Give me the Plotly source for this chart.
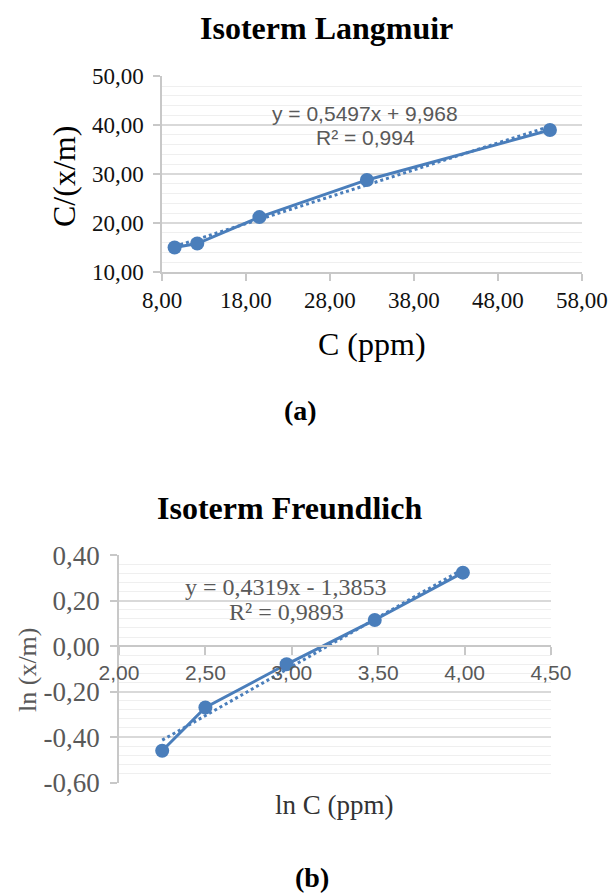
import plotly.graph_objects as go

# ---- data ----
C_ppm = [9.5, 12.2, 19.6, 32.4, 54.2]
C_over_xm = [15.0, 15.8, 21.2, 28.8, 39.0]
lang_slope, lang_intercept = 0.5497, 9.968
lang_eq = "y = 0,5497x + 9,968"
lang_r2 = "R² = 0,994"

lnC = [2.25, 2.50, 2.97, 3.48, 3.99]
ln_xm = [-0.46, -0.27, -0.08, 0.115, 0.323]
freu_slope, freu_intercept = 0.4319, -1.3853
freu_eq = "y = 0,4319x - 1,3853"
freu_r2 = "R² = 0,9893"

lang_xticks = [8, 18, 28, 38, 48, 58]
lang_yticks = [10, 20, 30, 40, 50]
freu_xticks = [2.0, 2.5, 3.0, 3.5, 4.0, 4.5]
freu_yticks = [-0.6, -0.4, -0.2, 0.0, 0.2, 0.4]

W, H = 612, 895
BLUE = "#4A7EBB"
SERIF = "Liberation Serif"
SANS = "Liberation Sans"
GRID = "#d9d9d9"
MINOR = "#efefef"
AXLINE = "#c8c8c8"


def fmt(v):
    return f"{v:.2f}".replace(".", ",")


def px(x):
    return x / W


def py(y):
    return 1 - y / H


fig = go.Figure()

# Langmuir
lx = [min(C_ppm), max(C_ppm)]
fig.add_trace(go.Scatter(x=lx, y=[lang_slope * v + lang_intercept for v in lx],
                         mode="lines", line=dict(color=BLUE, width=3, dash="dot"),
                         xaxis="x", yaxis="y", showlegend=False))
fig.add_trace(go.Scatter(x=C_ppm, y=C_over_xm, mode="lines+markers",
                         line=dict(color=BLUE, width=3),
                         marker=dict(color=BLUE, size=14),
                         xaxis="x", yaxis="y", showlegend=False))

# Freundlich
fx = [min(lnC), max(lnC)]
fig.add_trace(go.Scatter(x=fx, y=[freu_slope * v + freu_intercept for v in fx],
                         mode="lines", line=dict(color=BLUE, width=3, dash="dot"),
                         xaxis="x2", yaxis="y2", showlegend=False))
fig.add_trace(go.Scatter(x=lnC, y=ln_xm, mode="lines+markers",
                         line=dict(color=BLUE, width=3),
                         marker=dict(color=BLUE, size=14),
                         xaxis="x2", yaxis="y2", showlegend=False))

top_x = [px(162), px(582)]
top_y = [py(272), py(76)]
bot_x = [px(119), px(551)]
bot_y = [py(783), py(554.7)]
y2_range = [-0.6, 0.4]
x2_pos = bot_y[0] + (0 - y2_range[0]) / (y2_range[1] - y2_range[0]) * (bot_y[1] - bot_y[0])

fig.update_layout(
    template="none",
    width=W, height=H,
    margin=dict(l=0, r=0, t=0, b=0, pad=0, autoexpand=False),
    paper_bgcolor="white", plot_bgcolor="white",
    xaxis=dict(domain=top_x, anchor="y", range=[8, 58.02], automargin=False,
               tickvals=lang_xticks, ticktext=[fmt(v) for v in lang_xticks],
               showgrid=False, zeroline=False,
               showline=True, linecolor=AXLINE, linewidth=1.5,
               ticks="outside", ticklen=7, tickcolor=AXLINE, tickwidth=1.5,
               tickfont=dict(family=SERIF, size=23, color="#111111")),
    yaxis=dict(domain=top_y, anchor="x", range=[9.98, 50.05], automargin=False,
               tickvals=lang_yticks, ticktext=[fmt(v) for v in lang_yticks],
               showgrid=True, gridcolor=GRID, gridwidth=1.5,
               zeroline=False, showline=True, linecolor=AXLINE, linewidth=1.5,
               ticks="outside", ticklen=7, tickcolor=AXLINE, tickwidth=1.5,
               ticklabelstandoff=5,
               minor=dict(dtick=2, tick0=10, showgrid=True, gridcolor=MINOR, gridwidth=1.2, ticks=""),
               tickfont=dict(family=SERIF, size=23, color="#111111")),
    xaxis2=dict(domain=bot_x, anchor="free", position=x2_pos, range=[2.0, 4.5], automargin=False,
                tickvals=freu_xticks, ticktext=[fmt(v) for v in freu_xticks],
                showgrid=False, zeroline=False,
                showline=True, linecolor=AXLINE, linewidth=1.5,
                ticks="outside", ticklen=8, tickcolor=AXLINE, tickwidth=1.5,
                tickfont=dict(family=SANS, size=21, color="#595959")),
    yaxis2=dict(domain=bot_y, anchor="x2", range=[-0.602, 0.402], automargin=False,
                tickvals=freu_yticks, ticktext=[fmt(v) for v in freu_yticks],
                showgrid=True, gridcolor=GRID, gridwidth=1.5,
                zeroline=False, showline=True, linecolor=AXLINE, linewidth=1.5,
                ticks="outside", ticklen=7, tickcolor=AXLINE, tickwidth=1.5,
                ticklabelstandoff=5,
                minor=dict(dtick=0.04, tick0=0, showgrid=True, gridcolor=MINOR, gridwidth=1.2, ticks=""),
                tickfont=dict(family=SERIF, size=27, color="#595959")),
)

ann = []


def add_text(text, x, y, size, family, color="#000000", bold=False, angle=0, xref="paper", yref="paper"):
    t = f"<b>{text}</b>" if bold else text
    ann.append(dict(text=t, x=x, y=y, xref=xref, yref=yref, showarrow=False,
                    xanchor="center", yanchor="middle", textangle=angle,
                    font=dict(family=family, size=size, color=color)))


add_text("Isoterm Langmuir", px(326.5), py(28), 32, SERIF, bold=True)
add_text("C/(x/m)", px(64), py(177), 32, SERIF, angle=-90)
add_text("C (ppm)", px(372.5), py(344), 32, SERIF)
add_text("(a)", px(300), py(410), 28, SERIF, bold=True)
add_text(lang_eq, 32.2, 42.45, 21, SANS, color="#595959", xref="x", yref="y")
add_text(lang_r2, 32.2, 37.55, 21, SANS, color="#595959", xref="x", yref="y")

add_text("Isoterm Freundlich", px(289), py(508), 32, SERIF, bold=True)
add_text("ln (x/m)", px(27), py(670), 26, SERIF, color="#595959", angle=-90)
add_text("ln C (ppm)", px(334.5), py(805), 27, SERIF, color="#333333")
add_text("(b)", px(312), py(877), 28, SERIF, bold=True)
add_text(freu_eq, 2.969, 0.26, 24, SERIF, color="#595959", xref="x2", yref="y2")
add_text(freu_r2, 2.969, 0.150, 24, SERIF, color="#595959", xref="x2", yref="y2")

fig.update_layout(annotations=ann)
fig.write_html("out.html", config={"displayModeBar": False},
               post_script="document.body.style.margin='0';document.body.style.overflow='hidden';")
